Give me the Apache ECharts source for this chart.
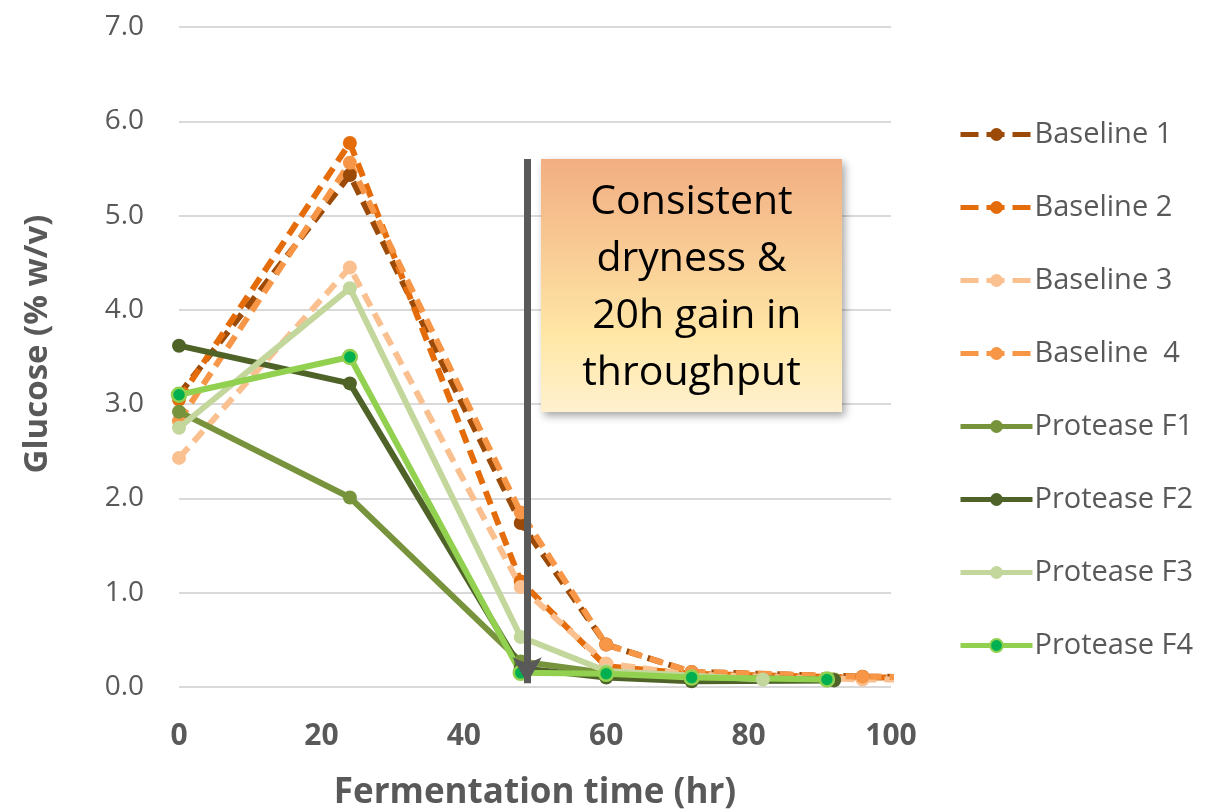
<!DOCTYPE html>
<html><head><meta charset="utf-8">
<script src="https://cdn.jsdelivr.net/npm/echarts@6/dist/echarts.min.js"></script>
<style>html,body{margin:0;padding:0;background:#fff}#c{width:1215px;height:812px}</style>
</head><body><div id="c"></div>
<script>
const xTicks = [0, 20, 40, 60, 80, 100];
const yTicks = [0, 1, 2, 3, 4, 5, 6, 7];
const seriesNames = ['Baseline 1','Baseline 2','Baseline 3','Baseline  4','Protease F1','Protease F2','Protease F3','Protease F4'];
const baselineTime = [0, 24, 48, 60, 72, 96, 110];
const baseline1 = [3.10, 5.43, 1.74, 0.45, 0.16, 0.11, 0.10];
const baseline2 = [3.05, 5.77, 1.12, 0.22, 0.14, 0.10, 0.10];
const baseline3 = [2.43, 4.45, 1.06, 0.25, 0.13, 0.08, 0.08];
const baseline4 = [2.82, 5.56, 1.85, 0.45, 0.16, 0.11, 0.10];
const proteaseF1Time = [0, 24, 48, 60, 72, 92];
const proteaseF1 = [2.92, 2.01, 0.27, 0.15, 0.10, 0.08];
const proteaseF2Time = [0, 24, 48, 60, 72, 92];
const proteaseF2 = [3.62, 3.22, 0.20, 0.10, 0.06, 0.07];
const proteaseF3Time = [0, 24, 48, 60, 82];
const proteaseF3 = [2.75, 4.23, 0.53, 0.17, 0.08];
const proteaseF4Time = [0, 24, 48, 60, 72, 91];
const proteaseF4 = [3.10, 3.50, 0.15, 0.14, 0.10, 0.08];
const arrowX = 48.9, arrowTop = 5.6, arrowBottom = 0.04;
const noteLines = ['Consistent', 'dryness &', ' 20h gain in', 'throughput'];

const colors = ['#9C4A07','#E46C0A','#FAC090','#F79646','#77933C','#4F6228','#C3D69B','#92D050'];
const FONT = 'Open Sans';
function pairs(xs, ys){ return xs.map((x,i)=>[x, ys[i]]); }
const allData = [
  pairs(baselineTime, baseline1), pairs(baselineTime, baseline2),
  pairs(baselineTime, baseline3), pairs(baselineTime, baseline4),
  pairs(proteaseF1Time, proteaseF1), pairs(proteaseF2Time, proteaseF2),
  pairs(proteaseF3Time, proteaseF3), pairs(proteaseF4Time, proteaseF4)
];
const series = allData.map((d,i)=>{
  const dashed = i < 4;
  const s = {
    name: seriesNames[i], type: 'line', data: d, clip: true,
    symbol: 'circle', symbolSize: 14,
    lineStyle: { color: colors[i], width: 6, type: dashed ? 'dashed' : 'solid', dashOffset: 0 },
    itemStyle: { color: colors[i] },
    z: dashed ? 2 : 3
  };
  if (dashed) s.lineStyle.type = [14, 8];
  if (i === 7) s.itemStyle = { color: '#00B050', borderColor: '#92D050', borderWidth: 2.5 };
  return s;
});
series[0].markLine = {
  silent: true, symbol: ['none', 'arrow'], symbolSize: [22, 26],
  label: { show: false },
  lineStyle: { color: '#595959', width: 7, type: 'solid', opacity: 1 },
  emphasis: { disabled: true },
  data: [[{ coord: [arrowX, arrowTop] }, { coord: [arrowX, arrowBottom] }]],
  z: 10
};
const legendData = seriesNames.map((n, i) => i < 4
  ? { name: n, lineStyle: { width: 5, type: [18, 8], color: colors[i] } }
  : { name: n, lineStyle: { width: 5, type: 'solid', color: colors[i] } });
const chart = echarts.init(document.getElementById('c'));
chart.setOption({
  animation: false,
  textStyle: { fontFamily: FONT },
  grid: { left: 179, right: 324, top: 27, bottom: 125, containLabel: false, outerBoundsMode: 'none' },
  xAxis: {
    type: 'value', min: xTicks[0], max: xTicks[xTicks.length-1], interval: 20,
    axisLine: { show: false }, axisTick: { show: false }, splitLine: { show: false },
    axisLabel: { color: '#595959', fontSize: 30, fontWeight: 'bold', margin: 34, fontFamily: FONT },
    name: 'Fermentation time (hr)', nameLocation: 'middle', nameGap: 89,
    nameTextStyle: { color: '#595959', fontSize: 35, fontWeight: 'bold', fontFamily: FONT }
  },
  yAxis: {
    type: 'value', min: yTicks[0], max: yTicks[yTicks.length-1], interval: 1,
    axisLine: { show: false }, axisTick: { show: false },
    splitLine: { lineStyle: { color: '#D9D9D9', width: 2 } },
    axisLabel: { color: '#595959', fontSize: 28, margin: 35, fontFamily: FONT, formatter: v => v.toFixed(1) },
    name: 'Glucose (% w/v)', nameLocation: 'middle', nameGap: 125,
    nameTextStyle: { color: '#595959', fontSize: 33, fontWeight: 'bold', fontFamily: FONT, padding: [0,0,0,26] }
  },
  legend: {
    orient: 'vertical', left: 953, top: 115, itemGap: 44, itemWidth: 72, itemHeight: 16,
    lineStyle: { width: 5 },
    textStyle: { color: '#595959', fontSize: 29, fontFamily: FONT, padding: [0,0,0,-3] },
    data: legendData
  },
  series: series,
  graphic: [{
    type: 'rect', left: 541, top: 159, z: 100, zlevel: 0,
    shape: { x: 0, y: 0, width: 301, height: 253 },
    style: {
      fill: new echarts.graphic.LinearGradient(0, 0, 0, 1, [
        { offset: 0, color: '#F2AE82' }, { offset: 0.7, color: '#FFE7A6' }, { offset: 1, color: '#FFF1CF' }
      ]),
      shadowBlur: 8, shadowOffsetX: 3, shadowOffsetY: 4, shadowColor: 'rgba(0,0,0,0.35)'
    },
    textContent: {
      z: 101,
      style: {
        text: noteLines.join('\n'), fill: '#000', fontSize: 41, fontFamily: FONT,
        align: 'center', verticalAlign: 'middle', lineHeight: 57
      }
    },
    textConfig: { position: 'inside', offset: [0, 2] }
  }]
});
</script></body></html>
